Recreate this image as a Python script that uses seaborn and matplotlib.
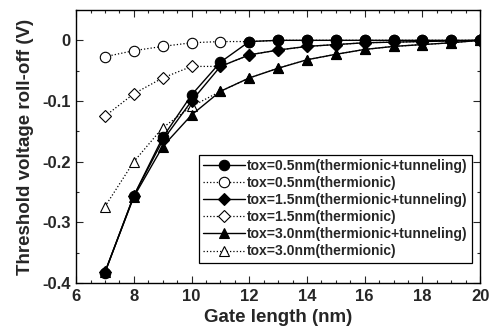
import matplotlib
matplotlib.use("Agg")
import matplotlib.pyplot as plt
import pandas as pd
import seaborn as sns
from matplotlib.ticker import MultipleLocator

# gate length (nm)
gate_length = [7, 8, 9, 10, 11, 12, 13, 14, 15, 16, 17, 18, 19, 20]

# threshold voltage roll-off (V)
tox05_tt = [-0.383, -0.256, -0.160, -0.090, -0.036, -0.002, 0.0, 0.0, 0.0, 0.0, 0.0, 0.0, 0.0, 0.0]
tox05_th = [-0.027, -0.017, -0.010, -0.004, -0.002, -0.002, 0.0, 0.0, 0.0, 0.0, 0.0, 0.0, 0.0, 0.0]
tox15_tt = [-0.382, -0.256, -0.165, -0.100, -0.043, -0.024, -0.016, -0.010, -0.007, -0.004, -0.003, -0.002, -0.001, 0.0]
tox15_th = [-0.125, -0.088, -0.062, -0.043, -0.043, -0.024, -0.016, -0.010, -0.007, -0.004, -0.003, -0.002, -0.001, 0.0]
tox30_tt = [-0.382, -0.258, -0.175, -0.123, -0.084, -0.062, -0.046, -0.032, -0.023, -0.015, -0.010, -0.007, -0.004, 0.0]
tox30_th = [-0.274, -0.200, -0.144, -0.109, -0.084, -0.062, -0.046, -0.032, -0.023, -0.015, -0.010, -0.007, -0.004, 0.0]

labels = [
    "tox=0.5nm(thermionic+tunneling)",
    "tox=0.5nm(thermionic)",
    "tox=1.5nm(thermionic+tunneling)",
    "tox=1.5nm(thermionic)",
    "tox=3.0nm(thermionic+tunneling)",
    "tox=3.0nm(thermionic)",
]
series = [tox05_tt, tox05_th, tox15_tt, tox15_th, tox30_tt, tox30_th]
markers = ["o", "o", "D", "D", "^", "^"]
filled = [True, False, True, False, True, False]

sns.set_style("ticks")
plt.rcParams['font.family'] = ['Liberation Sans', 'DejaVu Sans']

fig = plt.figure(figsize=(4.91, 3.33), dpi=100)
ax = fig.add_axes([0.155, 0.150, 0.823, 0.820])

for lab, vals, mk, fl in zip(labels, series, markers, filled):
    df = pd.DataFrame({'x': gate_length, 'y': vals})
    ms = 7.5 if mk == "o" else (6 if mk == "D" else 7.5)
    sns.lineplot(data=df, x='x', y='y', ax=ax, label=lab,
                 color='black', linewidth=1.0 if fl else 0.9,
                 linestyle='-' if fl else ':',
                 marker=mk, markersize=ms,
                 markerfacecolor='black' if fl else 'white',
                 markeredgecolor='black', markeredgewidth=0.8,
                 zorder=4 if fl else 3)

ax.set_xlim(6, 20)
ax.set_ylim(-0.4, 0.05)
ax.xaxis.set_major_locator(MultipleLocator(2))
ax.xaxis.set_minor_locator(MultipleLocator(0.5))
ax.yaxis.set_major_locator(MultipleLocator(0.1))
ax.yaxis.set_minor_locator(MultipleLocator(0.05))
ax.set_yticks([-0.4, -0.3, -0.2, -0.1, 0])
ax.set_yticklabels(['-0.4', '-0.3', '-0.2', '-0.1', '0'])
ax.tick_params(which='both', direction='in', top=True, right=True, width=0.8)
ax.tick_params(which='major', length=5, labelsize=12, pad=4)
ax.tick_params(which='minor', length=2.5)
for t in ax.get_xticklabels() + ax.get_yticklabels():
    t.set_fontweight('bold')
for sp in ax.spines.values():
    sp.set_linewidth(1.0)
    sp.set_color('black')

ax.set_xlabel("Gate length (nm)", fontsize=13.5, fontweight='bold', labelpad=4)
ax.set_ylabel("Threshold voltage roll-off (V)", fontsize=13.5, fontweight='bold', labelpad=6)

leg = ax.legend(loc='lower right', bbox_to_anchor=(0.98, 0.075), fontsize=10,
                frameon=True, fancybox=False, edgecolor='black', framealpha=1,
                handlelength=3.0, handletextpad=0.2, labelspacing=0.22, borderpad=0.3,
                borderaxespad=0.0)
leg.get_frame().set_linewidth(0.9)
for t in leg.get_texts():
    t.set_fontweight('semibold')

fig.savefig("out.png", dpi=100)
